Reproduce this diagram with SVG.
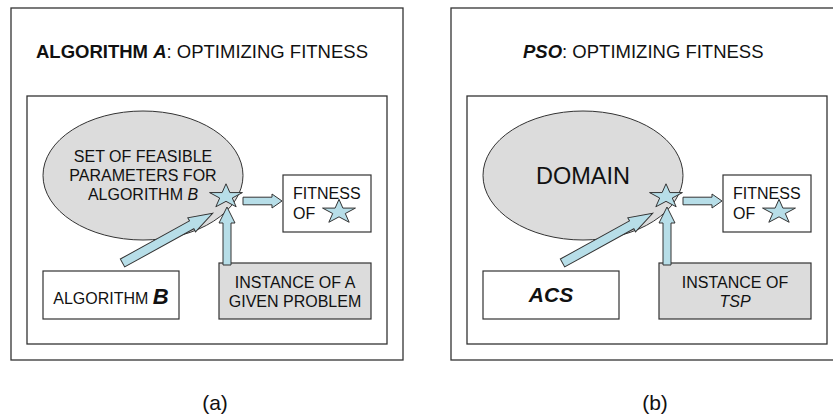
<svg xmlns="http://www.w3.org/2000/svg" xmlns:xlink="http://www.w3.org/1999/xlink" width="833" height="417" viewBox="0 0 833 417">
  <style>
    text { font-family: "Liberation Sans", Arial, sans-serif; fill: #111; }
    .frame { fill: #fff; stroke: #333; stroke-width: 1.3; }
    .box { fill: #fff; stroke: #333; stroke-width: 1.2; }
    .gray { fill: #dcdcdc; stroke: #333; stroke-width: 1.2; }
    .domain { fill: #dcdcdc; stroke: #333; stroke-width: 1; }
    .arrow { fill: #b7dee8; stroke: #333; stroke-width: 1; stroke-linejoin: miter; }
    .star { fill: #b7dee8; stroke: #333; stroke-width: 1; }
    .title { font-size: 18.5px; }
    .lbl { font-size: 16px; }
    .cap { font-size: 21px; text-anchor: middle; }
    .b { font-weight: bold; }
    .i { font-style: italic; }
  </style>
  <defs>
    <!-- five-point star, slightly flattened -->
    <path id="star" class="star" d="M0,-12.7 L3.88,-3.92 L16.45,-3.92 L6.29,1.5 L10.17,10.27 L0,4.85 L-10.17,10.27 L-6.29,1.5 L-16.45,-3.92 L-3.88,-3.92 Z"/>
    <!-- block arrow pointing +x, tail at origin -->
    <path id="diag" class="arrow" d="M0,-4.5 L79,-4.5 L79,-8 L103,0 L79,8 L79,4.5 L0,4.5 Z"/>
    <path id="right" class="arrow" d="M0,-3.8 L29,-3.8 L29,-7 L39,0 L29,7 L29,3.8 L0,3.8 Z"/>
    <path id="up" class="arrow" d="M-4,0 L-4,-42 L-8,-42 L0,-58 L8,-42 L4,-42 L4,0 Z"/>
  </defs>

  <rect width="833" height="417" fill="#fff"/>

  <!-- panel (a) -->
  <g id="panel-a">
    <rect class="frame" x="11" y="8" width="392" height="352"/>
    <text class="title" x="36" y="58"><tspan class="b">ALGORITHM </tspan><tspan class="b i">A</tspan>: OPTIMIZING FITNESS</text>
    <rect class="frame" x="27" y="96" width="360" height="248"/>
  </g>
  <g id="params-a">
    <ellipse class="domain" cx="143" cy="175.5" rx="100" ry="64.5"/>
    <text class="lbl" text-anchor="middle" x="143" y="162">SET OF FEASIBLE</text>
    <text class="lbl" text-anchor="middle" x="143" y="181">PARAMETERS FOR</text>
    <text class="lbl" text-anchor="middle" x="143" y="200">ALGORITHM <tspan class="i">B</tspan></text>
  </g>
  <g id="fitness-a">
    <rect class="box" x="283" y="175" width="88" height="57"/>
    <text class="lbl" x="293" y="199">FITNESS</text>
    <text class="lbl" x="293" y="219">OF</text>
    <use xlink:href="#star" x="339" y="212"/>
  </g>
  <g id="algorithm-b">
    <rect class="box" x="43" y="271" width="136" height="48"/>
    <text class="lbl" text-anchor="middle" x="111" y="304">ALGORITHM <tspan class="b i" font-size="22px">B</tspan></text>
  </g>
  <g id="instance-a">
    <rect class="gray" x="219" y="263" width="152" height="56"/>
    <text class="lbl" text-anchor="middle" x="295" y="288">INSTANCE OF A</text>
    <text class="lbl" text-anchor="middle" x="295" y="307">GIVEN PROBLEM</text>
  </g>
  <g id="connectors-a">
    <use xlink:href="#diag" transform="translate(122.5,263) rotate(-28.9)"/>
    <use xlink:href="#up" x="227" y="265"/>
    <use xlink:href="#right" x="243" y="201"/>
  </g>
  <g id="point-a">
    <use xlink:href="#star" x="226" y="196.5"/>
  </g>
  <text class="cap" x="215" y="410">(a)</text>

  <!-- panel (b) -->
  <g id="panel-b">
    <rect class="frame" x="451" y="8" width="392" height="352"/>
    <text class="title" x="523" y="58"><tspan class="b i">PSO</tspan>: OPTIMIZING FITNESS</text>
    <rect class="frame" x="467" y="96" width="360" height="248"/>
  </g>
  <g id="domain-b">
    <ellipse class="domain" cx="583" cy="175.5" rx="100" ry="64.5"/>
    <text text-anchor="middle" x="583" y="184" font-size="23.5px">DOMAIN</text>
  </g>
  <g id="fitness-b">
    <rect class="box" x="723" y="175" width="88" height="57"/>
    <text class="lbl" x="733" y="199">FITNESS</text>
    <text class="lbl" x="733" y="219">OF</text>
    <use xlink:href="#star" x="779" y="212"/>
  </g>
  <g id="acs">
    <rect class="box" x="483" y="271" width="136" height="48"/>
    <text class="b i" text-anchor="middle" x="551" y="302" font-size="21px">ACS</text>
  </g>
  <g id="instance-b">
    <rect class="gray" x="659" y="263" width="152" height="56"/>
    <text class="lbl" text-anchor="middle" x="735" y="288">INSTANCE OF</text>
    <text class="lbl i" text-anchor="middle" x="735" y="307">TSP</text>
  </g>
  <g id="connectors-b">
    <use xlink:href="#diag" transform="translate(562.5,263) rotate(-28.9)"/>
    <use xlink:href="#up" x="667" y="265"/>
    <use xlink:href="#right" x="683" y="201"/>
  </g>
  <g id="point-b">
    <use xlink:href="#star" x="666" y="196.5"/>
  </g>
  <text class="cap" x="655" y="410">(b)</text>
</svg>
